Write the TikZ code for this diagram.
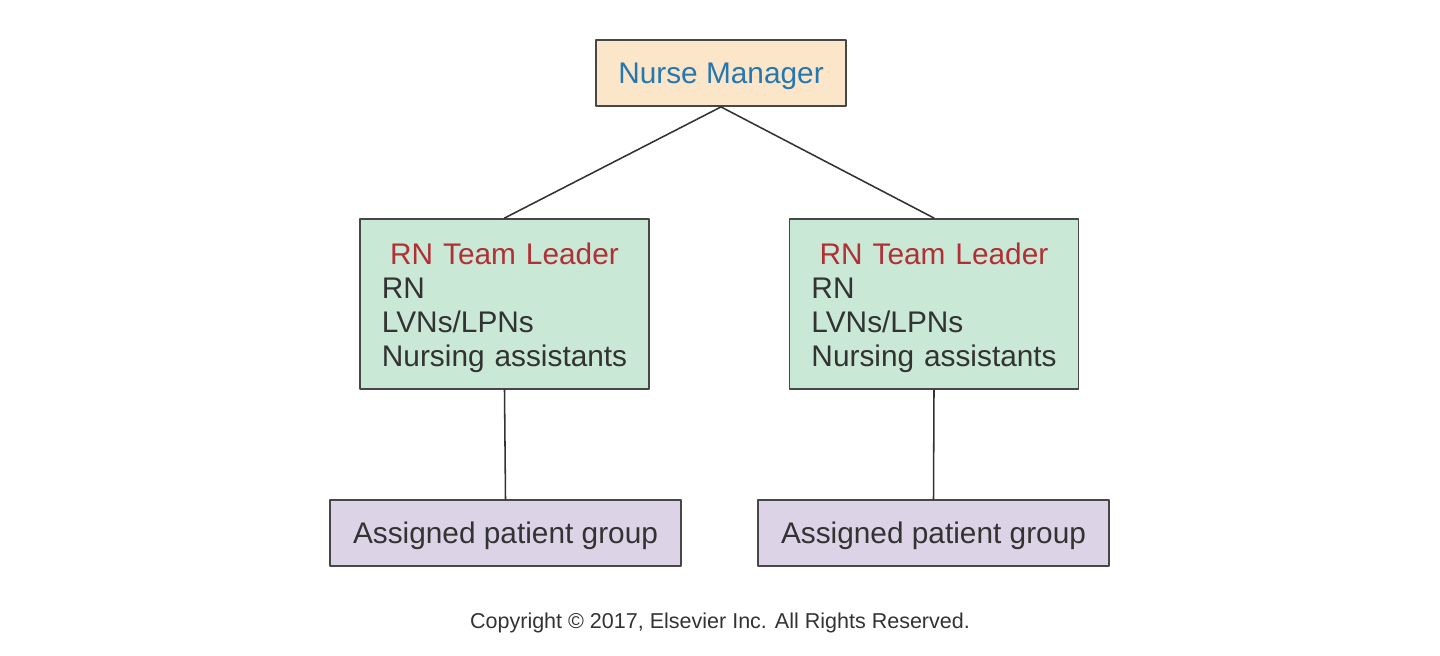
\documentclass[tikz,border=0pt]{standalone}
\usepackage{fontspec}
\setmainfont{Liberation Sans}
\definecolor{mgrfill}{HTML}{FBE6C9}
\definecolor{mgrblue}{HTML}{2577B0}
\definecolor{teamfill}{HTML}{C9E8D6}
\definecolor{leadred}{HTML}{B03035}
\definecolor{groupfill}{HTML}{DCD3E6}
\definecolor{inkgray}{HTML}{333333}
\begin{document}
\begin{tikzpicture}[x=0.025cm, y=-0.025cm, line join=round, line cap=round,
	box/.style={draw=inkgray!90, line width=1.3pt, inner sep=0pt, text=inkgray, font=\fontsize{21.2}{24.2}\selectfont},
	mgrbox/.style={box, fill=mgrfill, text=mgrblue, text depth=0pt, minimum width=6.25cm, minimum height=1.65cm},
	teambox/.style={box, fill=teamfill, minimum width=7.225cm, minimum height=4.25cm, text width=6.125cm, align=left},
	groupbox/.style={box, fill=groupfill, text depth=0pt, minimum width=8.775cm, minimum height=1.65cm},
	link/.style={draw=inkgray, line width=1.1pt}]
	\useasboundingbox (0,0) rectangle (1440,656);
	\def \lead{\makebox[\linewidth][c]{\rule{0pt}{21pt}\color{leadred}RN Team Leader}\\RN\\LVNs/LPNs\\\mbox{Nursing assistants}}
	\node[mgrbox] (mgr) at (721,73) {Nurse Manager};
	\node[teambox] (teamL) at (504.5,304) {\lead};
	\node[teambox] (teamR) at (934,304) {\lead};
	\node[groupbox] (groupL) at (505.5,533) {Assigned patient group};
	\node[groupbox] (groupR) at (933.5,533) {Assigned patient group};
	\draw[link] (mgr.south)--(teamL.north) (mgr.south)--(teamR.north);
	\draw[link] (teamL.south)--(groupL.north) (teamR.south)--(groupR.north);
	\node[text=inkgray, font=\fontsize{15.3}{17}\selectfont] (copy) at (720,623) {Copyright © 2017, Elsevier Inc. All Rights Reserved.};
\end{tikzpicture}
\end{document}
